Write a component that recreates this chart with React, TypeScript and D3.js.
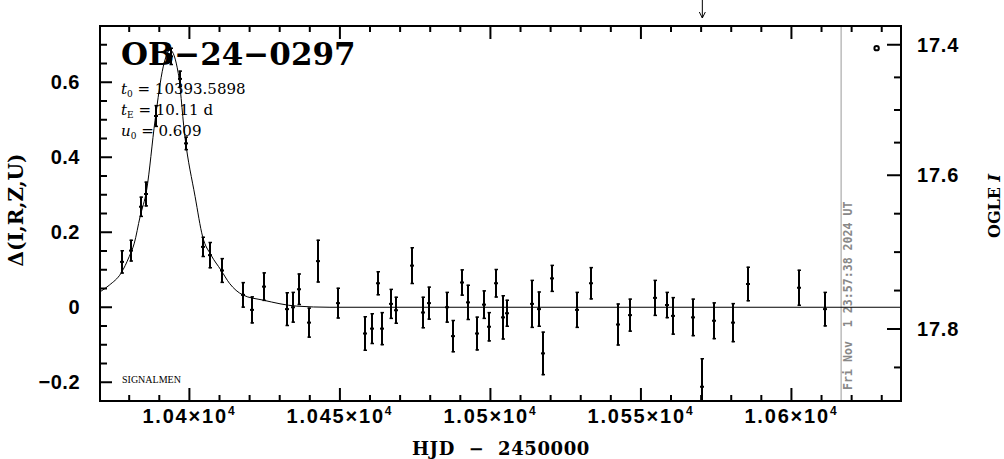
import React from 'react';
import * as d3 from 'd3';

const width = 1004;
const height = 459;
const frame = { left: 100, right: 901, top: 26, bottom: 401 };

// observations: HJD - 2450000, delta flux, error
const obsT = [
  10377.7, 10380.6, 10383.9, 10385.5, 10388.8, 10393.9, 10396.8, 10398.8, 10404.6, 10406.8,
  10410.7, 10417.7, 10420.7, 10424.8, 10432.5, 10434.5, 10436.5, 10439.7, 10442.8, 10449.5,
  10458.3, 10460.6, 10462.6, 10463.9, 10466.9, 10468.6, 10473.9, 10477.7, 10479.7, 10485.7,
  10487.7, 10490.6, 10492.5, 10495.6, 10497.9, 10499.6, 10501.8, 10504.3, 10505.6, 10513.7,
  10516.2, 10517.6, 10520.4, 10528.7, 10533.4, 10542.5, 10546.4, 10554.7, 10558.6, 10560.6,
  10567.4, 10570.4, 10574.4, 10580.5, 10585.5, 10602.5, 10611.3,
];
const obsD = [
  0.121, 0.151, 0.268, 0.302, 0.51, 0.669, 0.609, 0.437, 0.161, 0.139,
  0.098, 0.033, -0.007, 0.055, -0.005, 0.0, 0.048, -0.041, 0.123, 0.011,
  -0.07, -0.057, 0.064, -0.057, 0.009, -0.008, 0.111, -0.014, 0.011, 0.0,
  -0.077, 0.066, 0.013, -0.07, 0.007, -0.052, 0.064, -0.027, -0.016, 0.009,
  -0.005, -0.123, 0.077, -0.007, 0.064, -0.046, -0.021, 0.025, 0.006, -0.023,
  -0.027, -0.212, -0.036, -0.041, 0.062, 0.052, -0.005,
];
const obsErr = [
  0.031, 0.029, 0.027, 0.033, 0.029, 0.023, 0.022, 0.018, 0.027, 0.035,
  0.033, 0.034, 0.036, 0.038, 0.045, 0.041, 0.042, 0.04, 0.057, 0.041,
  0.046, 0.041, 0.032, 0.044, 0.04, 0.036, 0.049, 0.042, 0.044, 0.041,
  0.043, 0.035, 0.047, 0.045, 0.038, 0.039, 0.038, 0.059, 0.036, 0.064,
  0.047, 0.058, 0.036, 0.048, 0.043, 0.056, 0.044, 0.048, 0.035, 0.05,
  0.05, 0.076, 0.049, 0.052, 0.046, 0.048, 0.046,
];

// model light curve
const modelT = [
  10370.3, 10373.4, 10377.3, 10380.0, 10381.7, 10383.6, 10385.8, 10388.6, 10391.3, 10393.6,
  10396.3, 10398.5, 10401.9, 10404.4, 10407.2, 10410.5, 10413.3, 10417.7, 10424.5, 10435.7,
  10446.7, 10636.4,
];
const modelD = [
  0.041, 0.059, 0.091, 0.135, 0.171, 0.241, 0.313, 0.499, 0.641, 0.686,
  0.624, 0.455, 0.295, 0.188, 0.139, 0.099, 0.064, 0.033, 0.019, 0.003,
  0.0, 0.0,
];

const xMajor = [10400, 10450, 10500, 10550, 10600];
const xLabels = ['1.04', '1.045', '1.05', '1.055', '1.06'];
const yMajor = [-0.2, 0, 0.2, 0.4, 0.6];
const yLabels = ['\u22120.2', '0', '0.2', '0.4', '0.6'];
const magMajor = [17.4, 17.6, 17.8];
const magMinor = [17.45, 17.5, 17.55, 17.65, 17.7, 17.75, 17.85];
const magRef = [17.4, 17.6, 17.8];
const magRefDelta = [0.7, 0.352, -0.058];

const markerT = 10570.4; // arrow on top
const nowT = 10616.5; // grey date line
const ogleT = [10628.3];
const ogleD = [0.691];

const serif = '"DejaVu Serif", serif';
const sans = '"Liberation Sans", Arial, sans-serif';

export default function App() {
  const x = d3.scaleLinear().domain([10370.3, 10636.4]).range([frame.left, frame.right]);
  const y = d3.scaleLinear().domain([-0.25, 0.75]).range([frame.bottom, frame.top]);
  const magToDelta = d3.scaleLinear().domain(magRef).range(magRefDelta);
  const ym = (m: number) => y(magToDelta(m));

  const xMinor = d3.range(10380, 10631, 10).filter((t) => !xMajor.includes(t));
  const yMinor = d3.range(-0.2, 0.76, 0.05)
    .map((v) => Math.round(v * 100) / 100)
    .filter((v) => !yMajor.some((m) => Math.abs(m - v) < 1e-6));

  const line = d3.line<number>()
    .x((_, i) => x(modelT[i]))
    .y((d) => y(d))
    .curve(d3.curveMonotoneX);

  return (
    <svg width={width} height={height} style={{ position: 'absolute', left: 0, top: 0, background: '#fff' }}>
      <defs>
        <clipPath id="plotClip">
          <rect x={frame.left} y={frame.top} width={frame.right - frame.left} height={frame.bottom - frame.top} />
        </clipPath>
      </defs>

      {/* grey date line */}
      <line x1={x(nowT)} x2={x(nowT)} y1={frame.top} y2={frame.bottom} stroke="#999" strokeWidth={1} />
      <text
        transform={`translate(${x(nowT) + 11},${frame.bottom - 11}) rotate(-90)`}
        fontFamily='"DejaVu Sans Mono", monospace' fontWeight="bold" fontSize={11.6} fill="#888"
        style={{ whiteSpace: 'pre' }} xmlSpace="preserve"
      >Fri Nov  1 23:57:38 2024 UT</text>

      <g clipPath="url(#plotClip)">
        <path d={line(modelD) || ''} fill="none" stroke="#000" strokeWidth={1} />
        {obsT.map((t, i) => {
          const cx = Math.round(x(t));
          const y1 = y(obsD[i] + obsErr[i]);
          const y2 = y(obsD[i] - obsErr[i]);
          return (
            <g key={i} stroke="#000">
              <line x1={cx} x2={cx} y1={y1} y2={y2} strokeWidth={2} />
              <line x1={cx - 1.5} x2={cx + 2} y1={y1 + 0.5} y2={y1 + 0.5} strokeWidth={1.5} />
              <line x1={cx - 1.5} x2={cx + 2} y1={y2 - 0.5} y2={y2 - 0.5} strokeWidth={1.5} />
              <line x1={cx - 2} x2={cx + 2} y1={y(obsD[i])} y2={y(obsD[i])} strokeWidth={2} />
            </g>
          );
        })}
        {ogleT.map((t, i) => (
          <circle key={i} cx={x(t)} cy={y(ogleD[i])} r={2.2} fill="#fff" stroke="#000" strokeWidth={2} />
        ))}
      </g>

      {/* frame */}
      <rect x={frame.left} y={frame.top} width={frame.right - frame.left} height={frame.bottom - frame.top}
        fill="none" stroke="#000" strokeWidth={2} />

      {/* bottom & top ticks, left and right ticks */}
      <g stroke="#000" strokeWidth={2}>
        {xMajor.map((t) => (
          <g key={t}>
            <line x1={x(t)} x2={x(t)} y1={frame.bottom} y2={frame.bottom - 13} />
            <line x1={x(t)} x2={x(t)} y1={frame.top} y2={frame.top + 13} />
          </g>
        ))}
        {xMinor.map((t) => (
          <g key={t}>
            <line x1={x(t)} x2={x(t)} y1={frame.bottom} y2={frame.bottom - 6} />
            <line x1={x(t)} x2={x(t)} y1={frame.top} y2={frame.top + 6} />
          </g>
        ))}
        {yMajor.map((v) => (
          <line key={v} x1={frame.left} x2={frame.left + 12} y1={y(v)} y2={y(v)} />
        ))}
        {yMinor.map((v) => (
          <line key={v} x1={frame.left} x2={frame.left + 7} y1={y(v)} y2={y(v)} />
        ))}
        {magMajor.map((m) => (
          <line key={m} x1={frame.right} x2={frame.right - 14} y1={ym(m)} y2={ym(m)} />
        ))}
        {magMinor.map((m) => (
          <line key={m} x1={frame.right} x2={frame.right - 7} y1={ym(m)} y2={ym(m)} />
        ))}
      </g>

      {/* tick labels */}
      <g fontFamily={sans} fontWeight="bold" fontSize={20} fill="#000">
        {xMajor.map((t, i) => (
          <text key={t} x={x(t)} y={423} textAnchor="middle" letterSpacing={1.8}>
            {xLabels[i]}{'\u00d7'}10<tspan fontSize={12} dy={-8}>4</tspan>
          </text>
        ))}
        {yMajor.map((v, i) => (
          <text key={v} x={80} y={y(v) + 7} textAnchor="end" letterSpacing={0.5}>{yLabels[i]}</text>
        ))}
        {magMajor.map((m) => (
          <text key={m} x={917} y={ym(m) + 7} letterSpacing={0.8}>{m.toFixed(1)}</text>
        ))}
      </g>

      {/* axis titles */}
      <text x={501} y={455} textAnchor="middle" fontFamily={serif} fontWeight="bold" fontSize={18}
        letterSpacing={0.6} xmlSpace="preserve" style={{ whiteSpace: 'pre' }}>HJD  {'\u2212'}  2450000</text>
      <text transform="translate(23,210) rotate(-90)" textAnchor="middle" fontFamily={serif}
        fontWeight="bold" fontSize={20}>{'\u0394'}(I,R,Z,U)</text>
      <text transform="translate(1000,206) rotate(-90)" textAnchor="middle" fontFamily={serif}
        fontWeight="bold" fontSize={16}>OGLE <tspan fontStyle="italic">I</tspan></text>

      {/* title & parameters */}
      <text x={121} y={65} fontFamily={serif} fontWeight="bold" fontSize={31}>OB{'\u2212'}24{'\u2212'}0297</text>
      <g fontFamily={serif} fontSize={15} fill="#000">
        <text x={121} y={94}><tspan fontStyle="italic">t</tspan><tspan fontSize={9} dy={3}>0</tspan><tspan dy={-3}> = 10393.5898</tspan></text>
        <text x={121} y={115}><tspan fontStyle="italic">t</tspan><tspan fontSize={9} dy={3}>E</tspan><tspan dy={-3}> = 10.11 d</tspan></text>
        <text x={121} y={136}><tspan fontStyle="italic">u</tspan><tspan fontSize={9} dy={3}>0</tspan><tspan dy={-3}> = 0.609</tspan></text>
      </g>
      <text x={122} y={383} fontFamily='"Liberation Serif", serif' fontSize={10}>SIGNALMEN</text>

      {/* arrow marker above the plot */}
      <g stroke="#000" strokeWidth={1} fill="none">
        <line x1={x(markerT)} x2={x(markerT)} y1={0} y2={18} />
        <polyline points={`${x(markerT) - 3},12 ${x(markerT)},18 ${x(markerT) + 3},12`} />
      </g>
    </svg>
  );
}
